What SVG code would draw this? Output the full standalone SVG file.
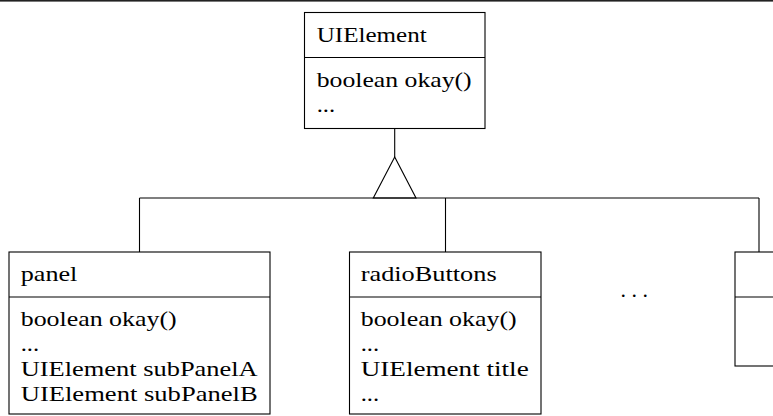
<svg xmlns="http://www.w3.org/2000/svg" width="773" height="416" viewBox="0 0 773 416">
<style>
.box{fill:#fff;stroke:#000;stroke-width:1.1}
.div{stroke:#000;stroke-width:1.1}
.t{font-family:"Liberation Serif","Times New Roman",serif;font-size:22px;fill:#000}
.c{fill:none;stroke:#000;stroke-width:1.1}
</style>
<rect x="0" y="0" width="773" height="1.6" fill="#222"/>
<g id="connectors">
<line class="c" x1="394.7" y1="128.5" x2="394.7" y2="157"/>
<polygon points="394.7,157 373.3,198 416,198" fill="#fff" stroke="#000" stroke-width="1.1"/>
<line class="c" x1="139.5" y1="198" x2="759" y2="198"/>
<line class="c" x1="139.5" y1="198" x2="139.5" y2="252"/>
<line class="c" x1="445.5" y1="198" x2="445.5" y2="252"/>
<line class="c" x1="759" y1="198" x2="759" y2="252"/>
</g>
<g id="UIElement">
<rect class="box" x="304.5" y="12.5" width="180.5" height="116"/>
<line class="div" x1="304.5" y1="57.5" x2="485" y2="57.5"/>
<text class="t" x="316.7" y="41.7" textLength="110" lengthAdjust="spacingAndGlyphs">UIElement</text>
<text class="t" x="316.7" y="86.5" textLength="155" lengthAdjust="spacingAndGlyphs">boolean okay()</text>
<text class="t" x="316.7" y="112" textLength="18.5" lengthAdjust="spacingAndGlyphs">...</text>
</g>
<g id="panel">
<rect class="box" x="9" y="252" width="261" height="162"/>
<line class="div" x1="9" y1="297" x2="270" y2="297"/>
<text class="t" x="20.7" y="281" textLength="56.7" lengthAdjust="spacingAndGlyphs">panel</text>
<text class="t" x="20.7" y="326" textLength="156" lengthAdjust="spacingAndGlyphs">boolean okay()</text>
<text class="t" x="20.7" y="351" textLength="18.5" lengthAdjust="spacingAndGlyphs">...</text>
<text class="t" x="20.7" y="376" textLength="237" lengthAdjust="spacingAndGlyphs">UIElement subPanelA</text>
<text class="t" x="20.7" y="400.5" textLength="237" lengthAdjust="spacingAndGlyphs">UIElement subPanelB</text>
</g>
<g id="radioButtons">
<rect class="box" x="349.5" y="252" width="191.5" height="162"/>
<line class="div" x1="349.5" y1="297" x2="541" y2="297"/>
<text class="t" x="360.7" y="281" textLength="136" lengthAdjust="spacingAndGlyphs">radioButtons</text>
<text class="t" x="360.7" y="326" textLength="156" lengthAdjust="spacingAndGlyphs">boolean okay()</text>
<text class="t" x="360.7" y="351" textLength="18.5" lengthAdjust="spacingAndGlyphs">...</text>
<text class="t" x="360.7" y="376" textLength="168" lengthAdjust="spacingAndGlyphs">UIElement title</text>
<text class="t" x="360.7" y="400.5" textLength="18.5" lengthAdjust="spacingAndGlyphs">...</text>
</g>
<g id="more">
<rect class="box" x="735" y="252" width="60" height="114"/>
<line class="div" x1="735" y1="297" x2="773" y2="297"/>
</g>
<text class="t" x="620.5" y="297">. . .</text>
</svg>
